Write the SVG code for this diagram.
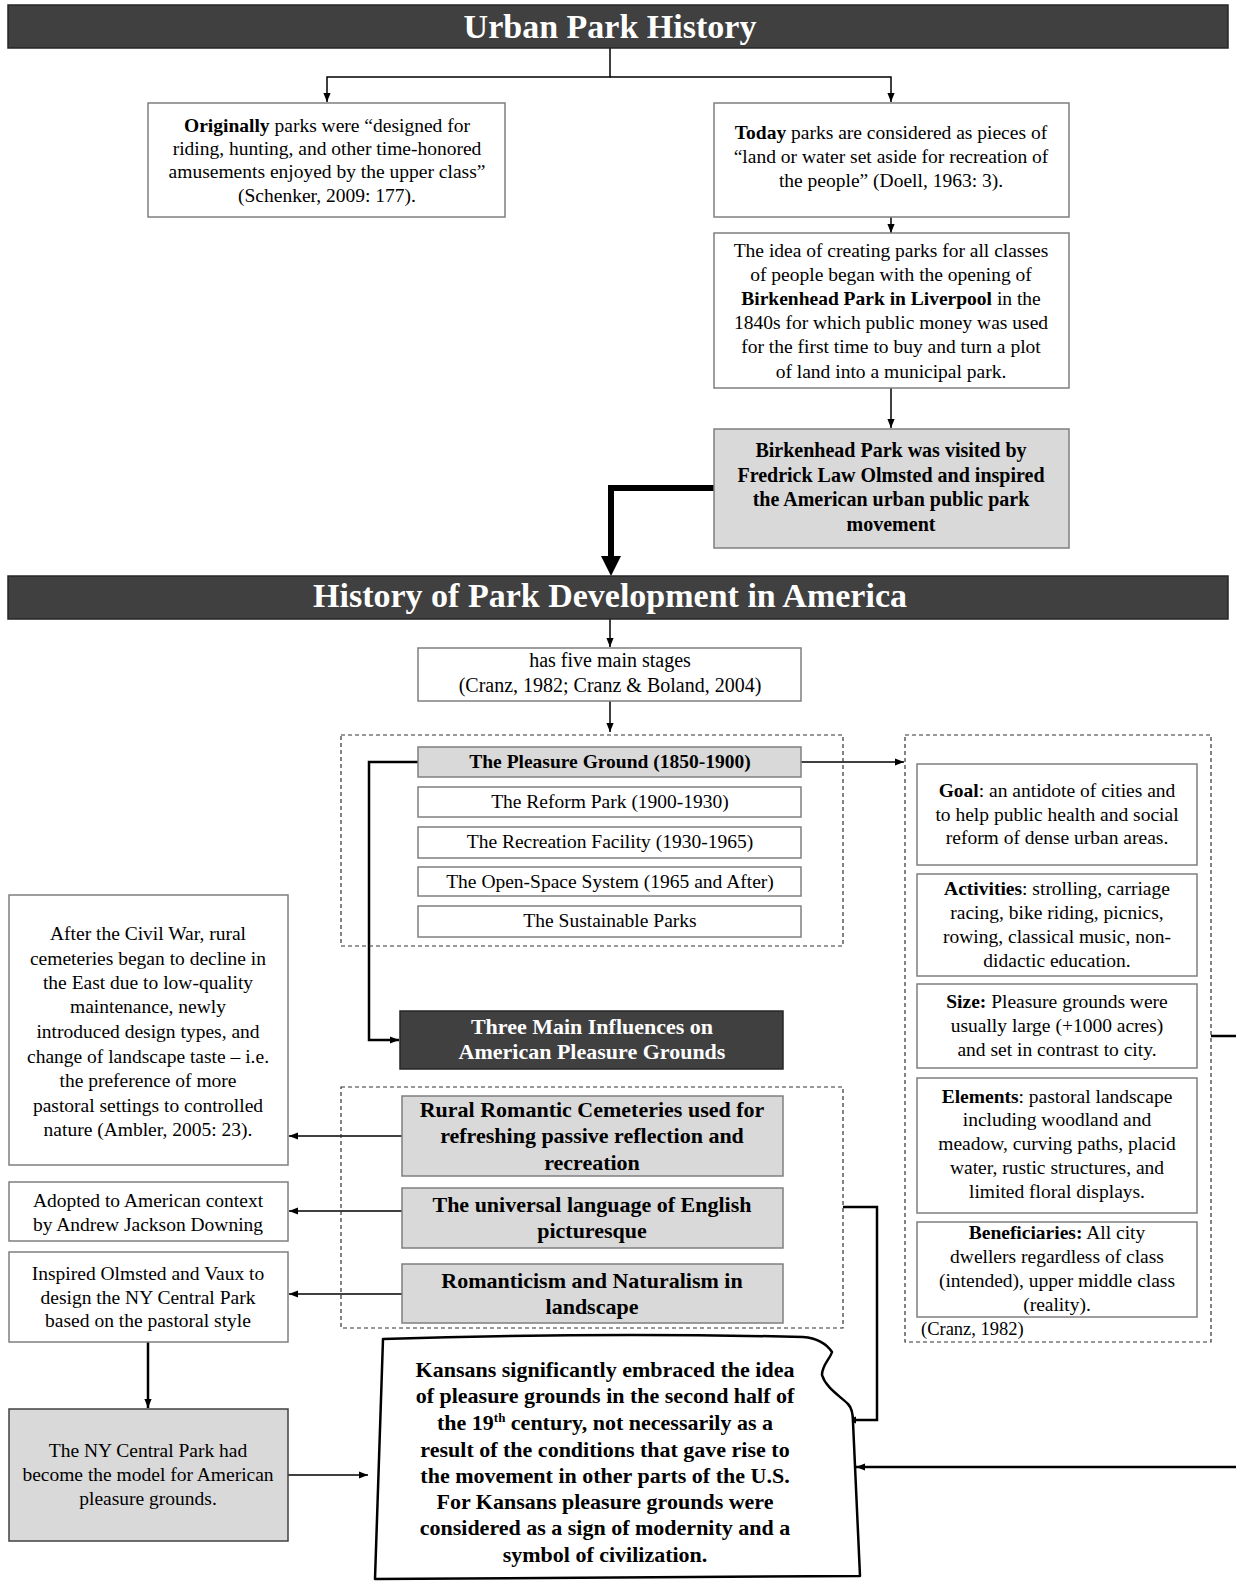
<svg xmlns="http://www.w3.org/2000/svg" width="1236" height="1581" viewBox="0 0 1236 1581">
<style>
.bg{fill:#fff}
.box{fill:#fff;stroke:#7f7f7f;stroke-width:1.5}
.gbox{fill:#d9d9d9;stroke:#7f7f7f;stroke-width:1.5}
.dbox{fill:#404040;stroke:#262626;stroke-width:1.5}
.dash{fill:none;stroke:#333;stroke-width:1.2;stroke-dasharray:4 3}
.t{font-family:"Liberation Serif","Times New Roman",serif;font-size:19.5px;text-anchor:middle;fill:#000}
.b{font-weight:bold}
.tb{font-family:"Liberation Serif","Times New Roman",serif;font-size:20px;font-weight:bold;text-anchor:middle;fill:#000}
.tk{font-family:"Liberation Serif","Times New Roman",serif;font-size:22px;font-weight:bold;text-anchor:middle;fill:#000}
.tw{font-family:"Liberation Serif","Times New Roman",serif;font-size:22px;font-weight:bold;text-anchor:middle;fill:#fff}
.title{font-family:"Liberation Serif","Times New Roman",serif;font-size:34px;font-weight:bold;text-anchor:middle;fill:#fff}
.c{fill:none;stroke:#000;stroke-width:1.5}
.c2{fill:none;stroke:#000;stroke-width:2.5}
</style>
<defs>
<marker id="arr" viewBox="0 0 10 10" refX="10" refY="5" markerWidth="9" markerHeight="9" markerUnits="userSpaceOnUse" orient="auto"><path d="M0,1 L10,5 L0,9 z" fill="#000"/></marker>
<marker id="big" viewBox="0 0 10 10" refX="0" refY="5" markerWidth="20" markerHeight="22" markerUnits="userSpaceOnUse" orient="auto"><path d="M0,0 L10,5 L0,10 z" fill="#000"/></marker>
</defs>
<rect class="bg" x="0" y="0" width="1236" height="1581"/>

<g id="connectors">
<path class="c" d="M610,48 V77 H327 V102" marker-end="url(#arr)"/>
<path class="c" d="M610,77 H891 V102" marker-end="url(#arr)"/>
<path class="c" d="M891,217 V233" marker-end="url(#arr)"/>
<path class="c" d="M891,388 V428" marker-end="url(#arr)"/>
<path fill="none" stroke="#000" stroke-width="6" d="M714,488 H611 V556" marker-end="url(#big)"/>
<path class="c" d="M610,619 V647" marker-end="url(#arr)"/>
<path class="c" d="M610,701 V732" marker-end="url(#arr)"/>
<path class="c" d="M801,762 H904" marker-end="url(#arr)"/>
<path class="c2" d="M418,762 H369 V1040 H399" marker-end="url(#arr)"/>
<path class="c" d="M402,1136 H289" marker-end="url(#arr)"/>
<path class="c" d="M402,1211 H289" marker-end="url(#arr)"/>
<path class="c" d="M402,1294 H289" marker-end="url(#arr)"/>
<path class="c2" d="M148,1342 V1408" marker-end="url(#arr)"/>
<path class="c" d="M288,1475 H368" marker-end="url(#arr)"/>
<path class="c2" d="M843,1207 H877 V1420 H847" marker-end="url(#arr)"/>
<path class="c2" d="M1211,1036 H1238 V1467 H856" marker-end="url(#arr)"/>
</g>

<g id="title1">
<rect class="dbox" x="8" y="5" width="1220" height="43"/>
<text class="title" x="610" y="38">Urban Park History</text>
</g>

<g id="originally">
<rect class="box" x="148" y="103" width="357" height="114"/>
<text class="t" x="327" y="132"><tspan class="b">Originally</tspan> parks were “designed for</text>
<text class="t" x="327" y="155">riding, hunting, and other time-honored</text>
<text class="t" x="327" y="178">amusements enjoyed by the upper class”</text>
<text class="t" x="327" y="202">(Schenker, 2009: 177).</text>
</g>

<g id="today">
<rect class="box" x="714" y="103" width="355" height="114"/>
<text class="t" x="891" y="139"><tspan class="b">Today</tspan> parks are considered as pieces of</text>
<text class="t" x="891" y="163">“land or water set aside for recreation of</text>
<text class="t" x="891" y="187">the people” (Doell, 1963: 3).</text>
</g>

<g id="idea">
<rect class="box" x="714" y="233" width="355" height="155"/>
<text class="t" x="891" y="257">The idea of creating parks for all classes</text>
<text class="t" x="891" y="281">of people began with the opening of</text>
<text class="t" x="891" y="305"><tspan class="b">Birkenhead Park in Liverpool</tspan> in the</text>
<text class="t" x="891" y="329">1840s for which public money was used</text>
<text class="t" x="891" y="353">for the first time to buy and turn a plot</text>
<text class="t" x="891" y="378">of land into a municipal park.</text>
</g>

<g id="birkenhead">
<rect class="gbox" x="714" y="429" width="355" height="119"/>
<text class="tb" x="891" y="457">Birkenhead Park was visited by</text>
<text class="tb" x="891" y="482">Fredrick Law Olmsted and inspired</text>
<text class="tb" x="891" y="506">the American urban public park</text>
<text class="tb" x="891" y="531">movement</text>
</g>

<g id="title2">
<rect class="dbox" x="8" y="576" width="1220" height="43"/>
<text class="title" x="610" y="607">History of Park Development in America</text>
</g>

<g id="stages-intro">
<rect class="box" x="418" y="648" width="383" height="53"/>
<text class="t" x="610" y="667" style="font-size:20px">has five main stages</text>
<text class="t" x="610" y="692" style="font-size:20px">(Cranz, 1982; Cranz &amp; Boland, 2004)</text>
</g>

<g id="stages">
<rect class="dash" x="341" y="735" width="502" height="211"/>
<rect class="gbox" x="418" y="747" width="383" height="30"/>
<text class="t b" x="610" y="768">The Pleasure Ground (1850-1900)</text>
<rect class="box" x="418" y="787" width="383" height="30"/>
<text class="t" x="610" y="808">The Reform Park (1900-1930)</text>
<rect class="box" x="418" y="827" width="383" height="31"/>
<text class="t" x="610" y="848">The Recreation Facility (1930-1965)</text>
<rect class="box" x="418" y="867" width="383" height="29"/>
<text class="t" x="610" y="888">The Open-Space System (1965 and After)</text>
<rect class="box" x="418" y="906" width="383" height="31"/>
<text class="t" x="610" y="927">The Sustainable Parks</text>
</g>

<g id="pleasure-details">
<rect class="dash" x="905" y="735" width="306" height="607"/>
<rect class="box" x="917" y="764" width="280" height="101"/>
<text class="t" x="1057" y="797"><tspan class="b">Goal</tspan>: an antidote of cities and</text>
<text class="t" x="1057" y="821">to help public health and social</text>
<text class="t" x="1057" y="844">reform of dense urban areas.</text>
<rect class="box" x="917" y="874" width="280" height="102"/>
<text class="t" x="1057" y="895"><tspan class="b">Activities</tspan>: strolling, carriage</text>
<text class="t" x="1057" y="919">racing, bike riding, picnics,</text>
<text class="t" x="1057" y="943">rowing, classical music, non-</text>
<text class="t" x="1057" y="967">didactic education.</text>
<rect class="box" x="917" y="984" width="280" height="84"/>
<text class="t" x="1057" y="1008"><tspan class="b">Size:</tspan> Pleasure grounds were</text>
<text class="t" x="1057" y="1032">usually large (+1000 acres)</text>
<text class="t" x="1057" y="1056">and set in contrast to city.</text>
<rect class="box" x="917" y="1078" width="280" height="135"/>
<text class="t" x="1057" y="1103"><tspan class="b">Elements</tspan>: pastoral landscape</text>
<text class="t" x="1057" y="1126">including woodland and</text>
<text class="t" x="1057" y="1150">meadow, curving paths, placid</text>
<text class="t" x="1057" y="1174">water, rustic structures, and</text>
<text class="t" x="1057" y="1198">limited floral displays.</text>
<rect class="box" x="917" y="1222" width="280" height="95"/>
<text class="t" x="1057" y="1239"><tspan class="b">Beneficiaries:</tspan> All city</text>
<text class="t" x="1057" y="1263">dwellers regardless of class</text>
<text class="t" x="1057" y="1287">(intended), upper middle class</text>
<text class="t" x="1057" y="1311">(reality).</text>
<text class="t" x="921" y="1335" style="text-anchor:start;font-size:18.5px">(Cranz, 1982)</text>
</g>

<g id="three-influences">
<rect class="dbox" x="400" y="1011" width="383" height="58"/>
<text class="tw" x="592" y="1034">Three Main Influences on</text>
<text class="tw" x="592" y="1059">American Pleasure Grounds</text>
</g>

<g id="influences">
<rect class="dash" x="341" y="1087" width="502" height="241"/>
<rect class="gbox" x="402" y="1096" width="381" height="80"/>
<text class="tk" x="592" y="1117">Rural Romantic Cemeteries used for</text>
<text class="tk" x="592" y="1143">refreshing passive reflection and</text>
<text class="tk" x="592" y="1170">recreation</text>
<rect class="gbox" x="402" y="1188" width="381" height="60"/>
<text class="tk" x="592" y="1212">The universal language of English</text>
<text class="tk" x="592" y="1238">picturesque</text>
<rect class="gbox" x="402" y="1264" width="381" height="59"/>
<text class="tk" x="592" y="1288">Romanticism and Naturalism in</text>
<text class="tk" x="592" y="1314">landscape</text>
</g>

<g id="after-civil-war">
<rect class="box" x="9" y="895" width="279" height="270"/>
<text class="t" x="148" y="940">After the Civil War, rural</text>
<text class="t" x="148" y="965">cemeteries began to decline in</text>
<text class="t" x="148" y="989">the East due to low-quality</text>
<text class="t" x="148" y="1013">maintenance, newly</text>
<text class="t" x="148" y="1038">introduced design types, and</text>
<text class="t" x="148" y="1063">change of landscape taste – i.e.</text>
<text class="t" x="148" y="1087">the preference of more</text>
<text class="t" x="148" y="1112">pastoral settings to controlled</text>
<text class="t" x="148" y="1136">nature (Ambler, 2005: 23).</text>
</g>

<g id="adopted">
<rect class="box" x="9" y="1182" width="279" height="59"/>
<text class="t" x="148" y="1207">Adopted to American context</text>
<text class="t" x="148" y="1231">by Andrew Jackson Downing</text>
</g>

<g id="inspired">
<rect class="box" x="9" y="1252" width="279" height="90"/>
<text class="t" x="148" y="1280">Inspired Olmsted and Vaux to</text>
<text class="t" x="148" y="1304">design the NY Central Park</text>
<text class="t" x="148" y="1327">based on the pastoral style</text>
</g>

<g id="ny-central-park">
<rect class="gbox" x="9" y="1409" width="279" height="132" style="stroke:#404040"/>
<text class="t" x="148" y="1457">The NY Central Park had</text>
<text class="t" x="148" y="1481">become the model for American</text>
<text class="t" x="148" y="1505">pleasure grounds.</text>
</g>

<g id="kansas">
<path d="M383,1339 Q600,1332 803,1337 C815,1338 826,1343 832,1352 C830,1359 822,1365 822,1375 C826,1388 840,1396 848,1404 C852,1408 853,1414 853,1422 L860,1576 L375,1579 Z" fill="#fff" stroke="#000" stroke-width="2.5" stroke-linejoin="round"/>
<text class="tk" x="605" y="1377">Kansans significantly embraced the idea</text>
<text class="tk" x="605" y="1403">of pleasure grounds in the second half of</text>
<text class="tk" x="605" y="1430">the 19<tspan dy="-8" style="font-size:13px">th</tspan><tspan dy="8"> century, not necessarily as a</tspan></text>
<text class="tk" x="605" y="1457">result of the conditions that gave rise to</text>
<text class="tk" x="605" y="1483">the movement in other parts of the U.S.</text>
<text class="tk" x="605" y="1509">For Kansans pleasure grounds were</text>
<text class="tk" x="605" y="1535">considered as a sign of modernity and a</text>
<text class="tk" x="605" y="1562">symbol of civilization.</text>
</g>
</svg>
